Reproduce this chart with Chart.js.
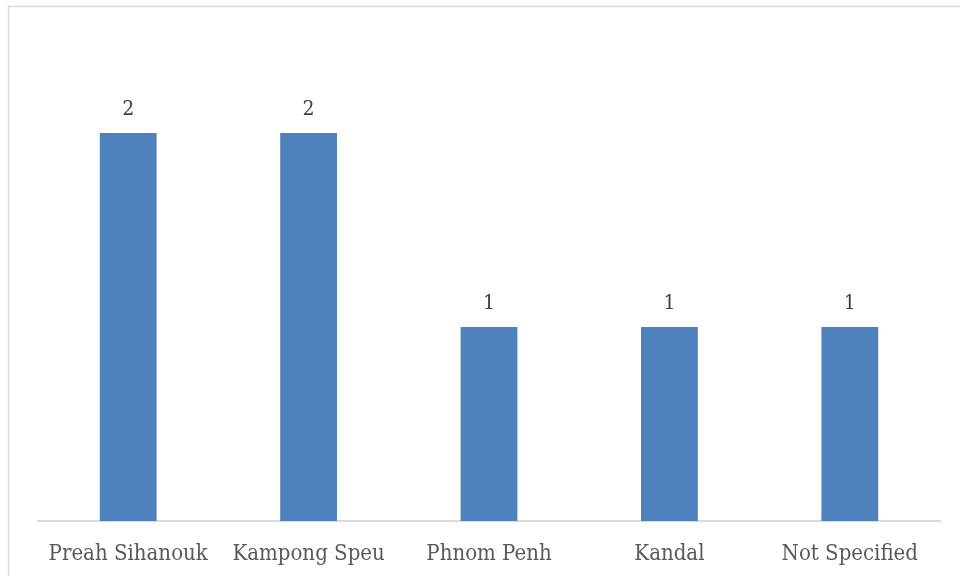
<!DOCTYPE html>
<html>
    <head>
        <script src="https://cdn.jsdelivr.net/npm/chart.js@4.4.0/dist/chart.umd.min.js"></script>
        <style>
            html, body { margin: 0; padding: 0; background: #fff; }
            #wrap { width: 960px; height: 576px; }
        </style>
    </head>
    <body>
        <div id="wrap">
            <canvas id="myChart"></canvas>
        </div>

        <script>
            // DATA
            const provinces = ['Preah Sihanouk', 'Kampong Speu', 'Phnom Penh', 'Kandal', 'Not Specified'];
            const counts = [2, 2, 1, 1, 1];

            const labelFont = '"DejaVu Serif Condensed", "DejaVu Serif", serif';

            // outer frame, cut off by the right and bottom edges
            const framePlugin = {
                id: 'frame',
                beforeDraw(chart) {
                    const ctx = chart.ctx;
                    ctx.save();
                    ctx.strokeStyle = '#d9d9d9';
                    ctx.lineWidth = 1.5;
                    ctx.strokeRect(8.5, 6.5, 1200, 1200);
                    ctx.restore();
                }
            };

            // value above every bar
            const valuePlugin = {
                id: 'values',
                afterDatasetsDraw(chart) {
                    const ctx = chart.ctx;
                    const meta = chart.getDatasetMeta(0);
                    ctx.save();
                    ctx.fillStyle = '#404040';
                    ctx.font = '21px ' + labelFont;
                    ctx.textAlign = 'center';
                    ctx.textBaseline = 'alphabetic';
                    meta.data.forEach((bar, i) => {
                        ctx.fillText(String(counts[i]), bar.x, bar.y - 18);
                    });
                    ctx.restore();
                }
            };

            const data = {
                labels: provinces,
                datasets: [{
                    data: counts,
                    backgroundColor: '#4f81bd',
                    borderWidth: 0,
                    categoryPercentage: 1,
                    barPercentage: 0.315
                }]
            };

            const config = {
                type: 'bar',
                data,
                plugins: [framePlugin, valuePlugin],
                options: {
                    responsive: true,
                    maintainAspectRatio: false,
                    animation: false,
                    layout: {
                        padding: { left: 38, right: 20, top: 36, bottom: 0 }
                    },
                    plugins: {
                        legend: { display: false },
                        tooltip: { enabled: false }
                    },
                    scales: {
                        x: {
                            grid: { display: false },
                            border: { color: '#d9d9d9', width: 2 },
                            ticks: {
                                color: '#595959',
                                padding: 12,
                                maxRotation: 0,
                                font: { family: labelFont, size: 22 }
                            },
                            afterFit: scale => { scale.height = 55; }
                        },
                        y: {
                            display: false,
                            min: 0,
                            max: 2.5
                        }
                    }
                }
            };

            // RENDER
            const myChart = new Chart(document.getElementById('myChart'), config);
        </script>
    </body>
</html>
